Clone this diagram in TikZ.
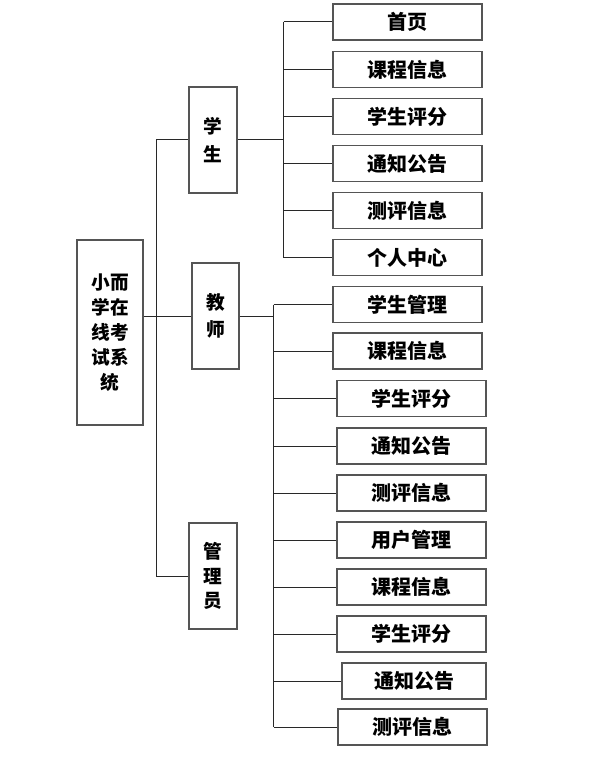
\documentclass[tikz,border=0pt]{standalone}
\usepackage{fontspec}
\setmainfont{Noto Sans CJK SC}
\usepackage{tikz}
\usetikzlibrary{positioning, calc}
\definecolor{frame}{RGB}{85,85,85}
\definecolor{wire}{RGB}{40,40,40}

\begin{document}
\begin{tikzpicture}[
			x=0.75pt, y=-0.75pt,
			box/.style={draw=frame, line width=0.9pt, fill=white, inner sep=0pt,
				align=center, font=\fontsize{15}{21}\selectfont\bfseries},
			rootbox/.style={box, minimum width=49.5pt, minimum height=138.75pt,
				font=\fontsize{14}{18.75}\selectfont\bfseries},
			role/.style={box, minimum width=36pt, minimum height=79.5pt, font=\fontsize{14}{20.5}\selectfont\bfseries},
			leaf/.style={box, minimum width=111.75pt, minimum height=27pt},
			wire/.style={draw=wire, line width=0.75pt}
			]
			\useasboundingbox (0,0) rectangle (593,759);
			
			% Root and roles
			\node[rootbox] (root) at (110,332.5) {小而\\学在\\线考\\试系\\统};
			\node[role] (stu) at (213,140) {学\\生};
			\node[role, minimum width=35.25pt] (tea) at (215.5,316) {教\\师};
			\node[role, font=\fontsize{14}{18.5}\selectfont\bfseries] (adm) at (213,576) {管\\理\\员};
			
			% Student leaves
			\node[leaf] (s1) at (407.5,22)    {首页};
			\node[leaf] (s2) at (407.5,69.5)  {课程信息};
			\node[leaf] (s3) at (407.5,116.5) {学生评分};
			\node[leaf] (s4) at (407.5,163.5) {通知公告};
			\node[leaf] (s5) at (407.5,210.5) {测评信息};
			\node[leaf] (s6) at (407.5,257.5) {个人中心};
			
			% Teacher leaves
			\node[leaf] (t1) at (407.5,304.5) {学生管理};
			\node[leaf] (t2) at (407.5,351)   {课程信息};
			\node[leaf] (t3) at (411.5,398.5) {学生评分};
			\node[leaf] (t4) at (411.5,446)   {通知公告};
			\node[leaf] (t5) at (411.5,493)   {测评信息};
			
			% Admin leaves
			\node[leaf] (a1) at (411.5,540) {用户管理};
			\node[leaf] (a2) at (411.5,587) {课程信息};
			\node[leaf] (a3) at (411.5,634) {学生评分};
			\node[leaf, minimum width=108pt] (a4) at (414,681) {通知公告};
			\node[leaf] (a5) at (412.5,727) {测评信息};
			
			% Trunk
			\draw[wire] (root.east |- tea.west) -- (tea.west);
			\draw[wire] (stu.west) -- ++(-32,0) |- (adm.west);
			
			% Student bus
			\draw[wire] (stu.east) -- ++(46,0) coordinate (sbus);
			\draw[wire] (sbus |- s1.west) -- (sbus |- s6.west);
			\foreach \n in {s1,s2,s3,s4,s5,s6}
				\draw[wire] (sbus |- \n.west) -- (\n.west);
			
			% Teacher and admin bus
			\draw[wire] (tea.east) -- ++(34,0) coordinate (tbus);
			\draw[wire] (tbus |- t1.west) -- (tbus |- a5.west);
			\foreach \n in {t1,t2,t3,t4,t5,a1,a2,a3,a4,a5}
				\draw[wire] (tbus |- \n.west) -- (\n.west);
			
		\end{tikzpicture}
\end{document}
